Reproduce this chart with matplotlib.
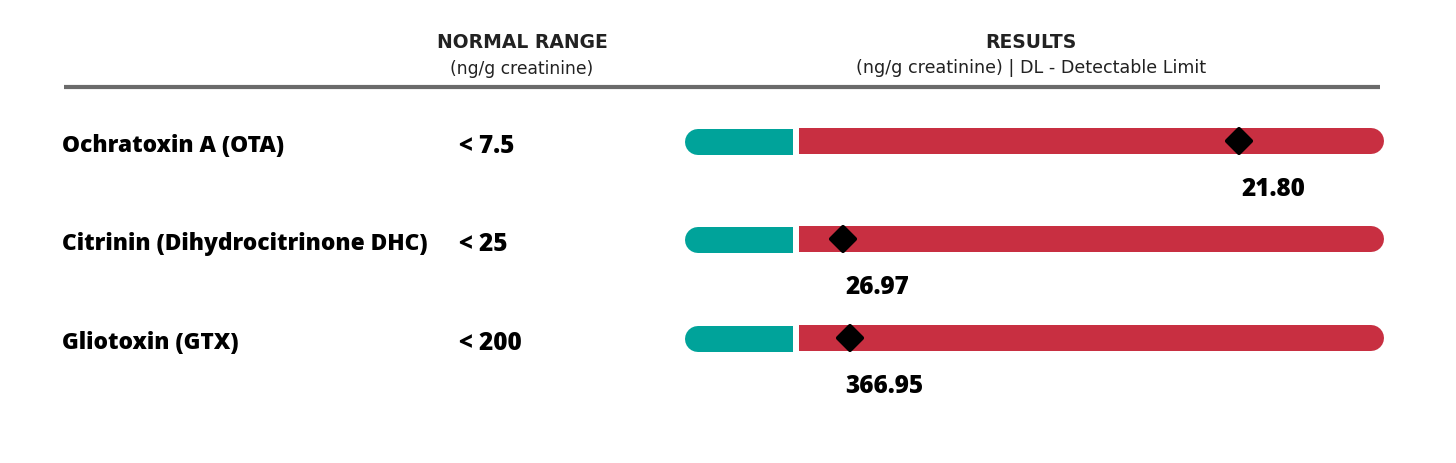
import matplotlib.pyplot as plt
from matplotlib.patches import Rectangle
from matplotlib.markers import MarkerStyle

toxins = ['Ochratoxin A (OTA)', 'Citrinin (Dihydrocitrinone DHC)', 'Gliotoxin (GTX)']
normal_labels = ['< 7.5', '< 25', '< 200']
normal_limits = [7.5, 25, 200]
results = [21.80, 26.97, 366.95]
# estimated upper end of the result scale for each row
scale_max = [26.5, 51.2, 2115]

TEAL = '#00A39A'
RED = '#C82F41'

W, H = 1456, 464
fig = plt.figure(figsize=(W / 100, H / 100), dpi=100)

# overlay axes in pixel units for the text and header rule
ax = fig.add_axes([0, 0, 1, 1])
ax.set_xlim(0, W)
ax.set_ylim(H, 0)
ax.axis('off')

head_font = 'DejaVu Sans'
lab_font = 'Open Sans'

ax.text(522, 43, 'NORMAL RANGE', ha='center', va='center', fontsize=13.5,
        family=head_font, fontweight='bold', color='#222222')
ax.text(522, 69, '(ng/g creatinine)', ha='center', va='center', fontsize=12.3,
        family=head_font, color='#222222')
ax.text(1031, 42, 'RESULTS', ha='center', va='center', fontsize=13.5,
        family=head_font, fontweight='bold', color='#222222')
ax.text(1031, 68, '(ng/g creatinine) | DL - Detectable Limit', ha='center', va='center',
        fontsize=12.6, family=head_font, color='#222222')
ax.plot([64, 1380], [87.5, 87.5], color='#6b6b6b', lw=3, solid_capstyle='butt')

row_y = [142, 240, 339]
bar_h = 26
teal_x0, teal_x1 = 685, 793
red_x0, red_x1 = 799, 1384


def px_rect(x0, x1, yc, h):
    return [x0 / W, 1 - (yc + h / 2) / H, (x1 - x0) / W, h / H]


def half_round_bar(ax_, x0, x1, color, round_left):
    # thick line with round caps, one end squared off by a rectangle
    span = x1 - x0
    r = span * (ax_.bbox.height / 2) / ax_.bbox.width
    ax_.plot([x0 + r, x1 - r], [0, 0], color=color, lw=bar_h * 0.72,
             solid_capstyle='round', clip_on=False)
    if round_left:
        ax_.add_patch(Rectangle((x1 - 2 * r, -1), 2 * r, 2, fc=color, ec='none'))
    else:
        ax_.add_patch(Rectangle((x0, -1), 2 * r, 2, fc=color, ec='none'))


diamond = MarkerStyle('D', joinstyle='round')

for i, name in enumerate(toxins):
    y = row_y[i]
    ax.text(62, y + 4, name, ha='left', va='center', fontsize=16.4,
            family=lab_font, fontweight=800, color='black')
    ax.text(459, y + 5, normal_labels[i], ha='left', va='center', fontsize=17.5,
            family=lab_font, fontweight=800, color='black')

    # normal range segment
    ax_n = fig.add_axes(px_rect(teal_x0, teal_x1, y + 0.5, bar_h))
    ax_n.set_xlim(0, normal_limits[i])
    ax_n.set_ylim(-1, 1)
    ax_n.axis('off')
    half_round_bar(ax_n, 0, normal_limits[i], TEAL, True)

    # result segment
    ax_r = fig.add_axes(px_rect(red_x0, red_x1, y - 0.5, bar_h))
    ax_r.set_xlim(normal_limits[i], scale_max[i])
    ax_r.set_ylim(-1, 1)
    ax_r.axis('off')
    half_round_bar(ax_r, normal_limits[i], scale_max[i], RED, False)
    ax_r.plot([results[i]], [0], marker=diamond, ms=12.5, color='black', mec='black',
              mew=3, clip_on=False, zorder=5)
    ax_r.annotate(f'{results[i]:.2f}', xy=(results[i], 0), xytext=(34, -48),
                  textcoords='offset pixels', ha='center', va='center', fontsize=17.5,
                  family=lab_font, fontweight=800, color='black', annotation_clip=False)

fig.savefig('out.png', dpi=100)
